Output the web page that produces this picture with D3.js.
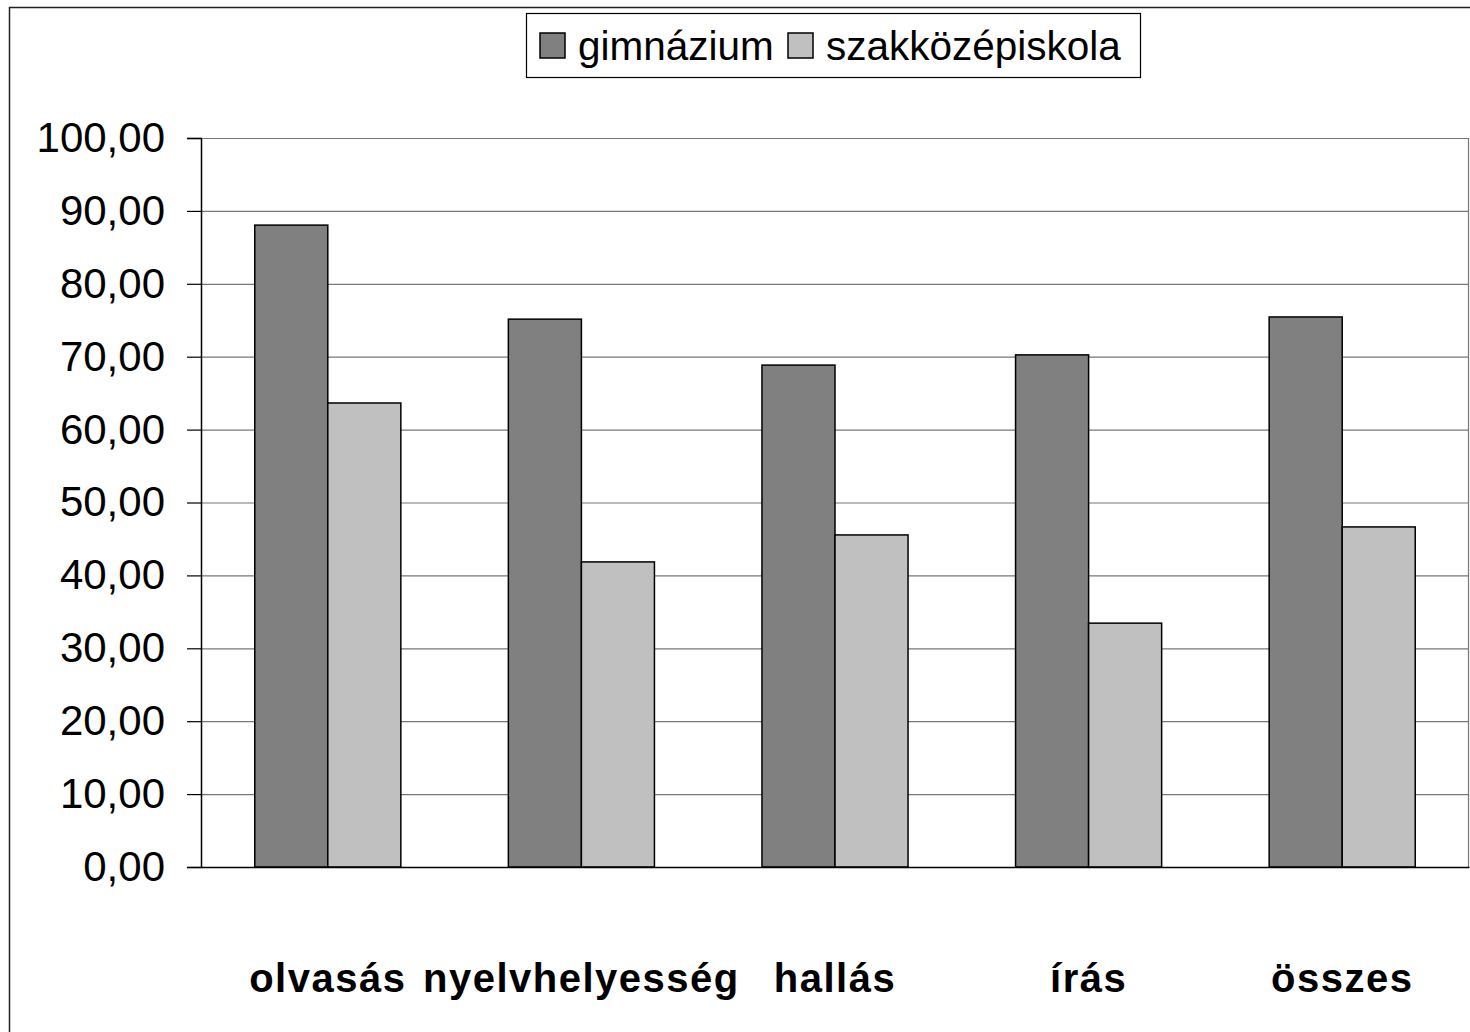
<!DOCTYPE html>
<html>
<head>
<meta charset="utf-8">
<script src="https://cdn.jsdelivr.net/npm/d3@7"></script>
<style>
  body { margin: 0; background: #fff; }
  text { font-family: "Liberation Sans", Arial, sans-serif; }
</style>
</head>
<body>
<div id="chart"></div>
<script>
// Data
const categories = ["olvasás", "nyelvhelyesség", "hallás", "írás", "összes"];
const seriesNames = ["gimnázium", "szakközépiskola"];
const gimnazium = [88.05, 75.15, 68.85, 70.25, 75.45];
const szakkozep = [63.65, 41.85, 45.55, 33.45, 46.65];
const yTicks = [0, 10, 20, 30, 40, 50, 60, 70, 80, 90, 100];
const colors = ["#808080", "#c0c0c0"];

const W = 1470, H = 1032;
const margin = {top: 138, right: 1, bottom: 165, left: 201};
const width = W - margin.left - margin.right,
      height = H - margin.top - margin.bottom;

const svg = d3.select("#chart").append("svg")
    .attr("width", W).attr("height", H);

// outer chart border (right side runs off the picture)
svg.append("rect")
    .attr("x", 9.5).attr("y", 7.5)
    .attr("width", W + 10).attr("height", H + 10)
    .attr("fill", "none").attr("stroke", "#222").attr("stroke-width", 1.5);

const g = svg.append("g").attr("transform", `translate(${margin.left},${margin.top})`);

const x = d3.scaleBand().domain(categories).range([0, width])
    .paddingInner(0.424).paddingOuter(0.212);
const xs = d3.scaleBand().domain(seriesNames).range([0, x.bandwidth()]);
const y = d3.scaleLinear().domain([0, 100]).range([height, 0]);

// gridlines
g.append("g").selectAll("line").data(yTicks.filter(d => d > 0)).enter().append("line")
    .attr("x1", 0).attr("x2", width)
    .attr("y1", d => y(d) + 0.5).attr("y2", d => y(d) + 0.5)
    .attr("stroke", "#777").attr("stroke-width", 1.2);

// right edge of plot
g.append("line").attr("x1", width - 0.5).attr("x2", width - 0.5)
    .attr("y1", 0).attr("y2", height).attr("stroke", "#777").attr("stroke-width", 1.2);

// bars
const rows = categories.map((c, i) => ({cat: c, vals: [gimnazium[i], szakkozep[i]]}));
const grp = g.selectAll(".grp").data(rows).enter().append("g")
    .attr("transform", d => `translate(${x(d.cat)},0)`);
grp.selectAll("rect").data(d => d.vals.map((v, j) => ({name: seriesNames[j], v, j})))
    .enter().append("rect")
    .attr("x", d => xs(d.name))
    .attr("y", d => y(d.v))
    .attr("width", xs.bandwidth())
    .attr("height", d => height - y(d.v))
    .attr("fill", d => colors[d.j])
    .attr("stroke", "#000").attr("stroke-width", 1.5);

// y axis
const yAxis = g.append("g")
    .call(d3.axisLeft(y).tickValues(yTicks).tickSize(14).tickPadding(22)
        .tickFormat(d => d3.format(".2f")(d).replace(".", ",")));
yAxis.select(".domain").attr("stroke", "#000").attr("stroke-width", 1.5);
yAxis.selectAll(".tick line").attr("stroke", "#000").attr("stroke-width", 1.2);
yAxis.selectAll("text").attr("font-size", 42).attr("fill", "#000")
    .attr("font-family", "'Liberation Sans', Arial, sans-serif");

// x axis baseline + labels
const xAxis = g.append("g").attr("transform", `translate(0,${height})`)
    .call(d3.axisBottom(x).tickSize(0).tickPadding(97));
xAxis.select(".domain").attr("stroke", "#000").attr("stroke-width", 1.5);
xAxis.selectAll("text").attr("font-size", 40).attr("font-weight", "bold")
    .attr("letter-spacing", 1.5)
    .attr("fill", "#000").attr("font-family", "'Liberation Sans', Arial, sans-serif");

// legend
const leg = svg.append("g").attr("transform", "translate(526,13)");
leg.append("rect").attr("x", 0.5).attr("y", 0.5).attr("width", 614).attr("height", 64)
    .attr("fill", "#fff").attr("stroke", "#000").attr("stroke-width", 1.2);
const legX = [14, 262];
seriesNames.forEach((name, j) => {
  leg.append("rect").attr("x", legX[j]).attr("y", 20).attr("width", 25).attr("height", 25)
      .attr("fill", colors[j]).attr("stroke", "#000").attr("stroke-width", 1.5);
  leg.append("text").attr("x", legX[j] + 38).attr("y", 47)
      .attr("font-size", 40.5).attr("fill", "#000").text(name);
});
</script>
</body>
</html>
